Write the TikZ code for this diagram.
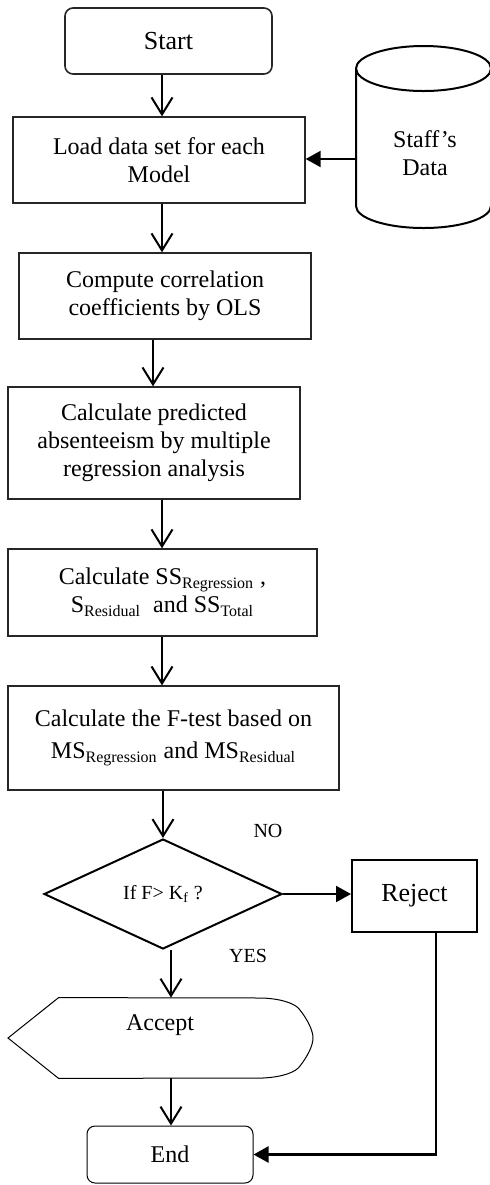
\documentclass[tikz,border=0pt]{standalone}
\usepackage{fontspec}
\setmainfont{Liberation Serif}
\usetikzlibrary{arrows.meta,shapes.geometric}
\begin{document}
\begin{tikzpicture}[x=0.5pt,y=-0.5pt,
  box/.style={draw=black!85, line width=0.7pt, align=center, inner sep=0pt,
    font=\fontsize{12}{14}\selectfont},
  openarr/.style={line width=1pt, -{Straight Barb[length=8.5pt,width=10.5pt]}},
  fillarr/.style={line width=1.1pt, -{Triangle[length=7.5pt,width=8pt]}},
  lbl/.style={font=\fontsize{10}{12}\selectfont, inner sep=0pt}]
\useasboundingbox (0,0) rectangle (490,1185);
\clip (0,0) rectangle (490,1185);

% helper x positions
\coordinate (xa) at (162,0);
\coordinate (xb) at (153,0);
\coordinate (xc) at (171,0);
\coordinate (xr) at (436,0);
\coordinate (cylL) at (356,159);

% Start
\node[box, rounded corners=4pt, line width=0.8pt, minimum width=103.5pt,
  minimum height=33pt, font=\fontsize{13}{15}\selectfont] (start) at (168.5,41) {Start};

% Load
\node[box, minimum width=146pt, minimum height=43pt] (load) at (159,160)
  {Load data set for each\\Model};

% Staff's data cylinder
\draw[line width=1pt] (356,68.5) -- (356,206)
  arc[start angle=180, end angle=0, x radius=67.5, y radius=22] -- (491,68.5);
\draw[line width=1pt] (423.5,68.5) ellipse[x radius=67.5, y radius=22.5];
\node[align=center, inner sep=0pt, font=\fontsize{12}{14}\selectfont] (data) at (425,153.5)
  {Staff’s\\Data};

% Compute
\node[box, minimum width=146pt, minimum height=43pt] (comp) at (165,296)
  {Compute correlation\\coefficients by OLS};

% Predicted
\node[box, minimum width=146pt, minimum height=56pt] (pred) at (154,443)
  {Calculate predicted\\absenteeism by multiple\\regression analysis};

% SS
\node[box, minimum width=154.5pt, minimum height=43.5pt] (ss) at (162.5,592.5)
  {Calculate SS\textsubscript{Regression} ,\\S\textsubscript{Residual}\ \ and SS\textsubscript{Total}};

% F-test
\node[box, minimum width=165.5pt, minimum height=52pt] (ftest) at (173.5,738)
  {Calculate the F-test based on\\[2pt]MS\textsubscript{Regression} and MS\textsubscript{Residual}};

% Decision
\node[draw, diamond, line width=1pt, minimum width=119pt, minimum height=55pt,
  inner sep=0pt, lbl] (dec) at (163,894) {If F> K\textsubscript{f} ?};

% Reject
\node[box, draw=black, line width=1pt, minimum width=62.5pt, minimum height=36pt,
  font=\fontsize{13}{15}\selectfont] (rej) at (414.5,896) {Reject};

% Accept (display shape)
\node[minimum width=102pt, minimum height=40pt, inner sep=0pt] (acc) at (161,1038) {};
\draw[line width=0.5pt] (8,1038) -- (acc.north west) -- (263,998)
  .. controls (283,999) and (296,1004) .. (300,1010)
  .. controls (307,1019) and (313,1030) .. (313,1038)
  .. controls (313,1046) and (307,1057) .. (300,1066)
  .. controls (296,1072) and (283,1077) .. (263,1078)
  -- (acc.south west) -- cycle;
\node[inner sep=0pt, font=\fontsize{12}{14}\selectfont] (acct) at (160,1025) {Accept};

% End
\node[box, draw=black, rounded corners=4pt, line width=0.5pt, minimum width=83pt,
  minimum height=28.5pt] (stop) at (170,1154.5) {End};

% Labels
\node[lbl] (no) at (268,831) {NO};
\node[lbl] (yes) at (248,956) {YES};

% Connectors
\draw[openarr] (start.south -| xa) -- (load.north -| xa);
\draw[openarr] (load.south -| xa) -- (comp.north -| xa);
\draw[openarr] (comp.south -| xb) -- (pred.north -| xb);
\draw[openarr] (pred.south -| xa) -- (ss.north -| xa);
\draw[openarr] (ss.south -| xa) -- (ftest.north -| xa);
\draw[openarr] (ftest.south -| dec.north) -- (dec.north);
\draw[openarr] (dec.south -| xc) -- (acc.north -| xc);
\draw[openarr] (acc.south -| xc) -- (stop.north -| xc);
\draw[fillarr] (cylL) -- (cylL -| load.east);
\draw[fillarr] (dec.east) -- (dec.east -| rej.west);
\draw[fillarr] (rej.south -| xr) |- (stop.east);
\end{tikzpicture}
\end{document}
